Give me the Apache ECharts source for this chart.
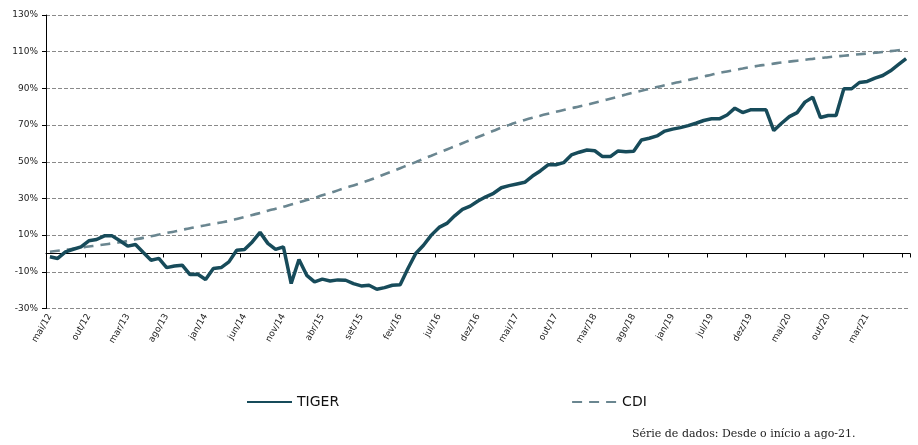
<!DOCTYPE html>
<html>
<head>
<meta charset="utf-8">
<script src="https://cdn.jsdelivr.net/npm/echarts@6/dist/echarts.min.js"></script>
<style>
html,body{margin:0;padding:0;background:#fff;}
#chart{width:918px;height:445px;}
</style>
</head>
<body>
<div id="chart"></div>
<script>
// ---- data ----
var monthNames = ['jan','fev','mar','abr','mai','jun','jul','ago','set','out','nov','dez'];
var missingMonth = 'jun/19';   // the source series skips one month in 2019
var categories = [];
for (var k = 0; k < 112; k++) {          // mai/12 .. ago/21
  var m = (4 + k) % 12;
  var y = 2012 + Math.floor((4 + k) / 12);
  var lab = monthNames[m] + '/' + String(y).slice(2);
  if (lab !== missingMonth) categories.push(lab);
}

var tiger = [
  -1.8, -2.7, 0.9, 2.3, 3.6, 6.9, 7.6, 9.6, 9.6, 6.9,
  4.0, 4.9, 0.5, -3.7, -2.7, -7.7, -6.8, -6.4, -11.5, -11.3,
  -14.2, -8.2, -7.7, -4.6, 1.8, 2.2, 6.3, 11.5, 5.5, 2.2,
  3.6, -16.4, -3.3, -11.9, -15.5, -14.0, -15.0, -14.4, -14.6, -16.4,
  -17.7, -17.3, -19.5, -18.6, -17.3, -17.0, -8.2, 0.0, 4.5, 10.0,
  14.2, 16.4, 20.5, 24.0, 25.8, 28.6, 30.9, 32.8, 35.8, 37.0,
  37.9, 38.8, 42.2, 45.0, 48.3, 48.4, 49.5, 53.7, 55.2, 56.4,
  56.0, 52.8, 52.8, 55.9, 55.5, 55.7, 61.9, 62.8, 64.1, 66.7,
  67.8, 68.6, 69.7, 71.0, 72.5, 73.4, 73.4, 75.5, 79.2, 76.8,
  78.3, 78.3, 78.3, 67.0, 71.0, 74.6, 76.8, 82.5, 85.2, 74.1,
  75.2, 75.2, 89.8, 89.8, 93.2, 93.8, 95.6, 97.0, 99.6, 102.9,
  106.2
];

var cdi = [
  0.9, 1.5, 2.0, 2.6, 3.2, 3.8, 4.3, 4.9, 5.5, 6.1,
  6.8, 7.7, 8.5, 9.4, 10.3, 11.2, 12.0, 12.9, 13.8, 14.6,
  15.4, 16.2, 16.9, 17.7, 18.8, 19.9, 21.0, 22.1, 23.3, 24.4,
  25.5, 26.7, 27.9, 29.1, 30.3, 31.7, 33.0, 34.4, 35.8, 37.1,
  38.5, 39.9, 41.5, 43.2, 44.8, 46.5, 48.2, 49.8, 51.6, 53.3,
  55.0, 56.7, 58.4, 60.1, 61.8, 63.5, 65.2, 66.9, 68.6, 70.1,
  71.5, 72.8, 74.0, 75.1, 76.2, 77.2, 78.2, 79.2, 80.1, 81.1,
  82.2, 83.3, 84.4, 85.5, 86.6, 87.7, 88.7, 89.7, 90.7, 91.7,
  92.7, 93.6, 94.6, 95.5, 96.5, 97.4, 98.4, 99.2, 100.0, 100.8,
  101.6, 102.3, 102.9, 103.5, 104.1, 104.6, 105.1, 105.6, 106.1, 106.6,
  107.0, 107.4, 107.8, 108.2, 108.6, 109.0, 109.4, 109.8, 110.3, 110.8,
  111.3
];

var seriesNames = ['TIGER', 'CDI'];
var footnote = 'Série de dados: Desde o início a ago-21.';

// ---- chart ----
var chart = echarts.init(document.getElementById('chart'), null, {renderer: 'canvas'});
var lastLabelIndex = 105;

chart.setOption({
  animation: false,
  backgroundColor: '#ffffff',
  textStyle: {fontFamily: 'DejaVu Sans'},
  grid: {left: 46, right: 8, top: 15, bottom: 136.5, containLabel: false},
  legend: {
    data: seriesNames,
    left: 246, top: 395, padding: 0,
    itemWidth: 45, itemHeight: 14, itemGap: 232,
    itemStyle: {opacity: 0},
    lineStyle: {opacity: 1},
    textStyle: {fontFamily: 'DejaVu Sans', fontSize: 14, color: '#111'}
  },
  xAxis: [
    {
      type: 'category', data: categories, boundaryGap: true, position: 'bottom',
      axisLine: {show: false, onZero: false},
      axisTick: {show: false},
      axisLabel: {
        interval: function (idx) { return idx % 5 === 0 && idx <= lastLabelIndex; },
        rotate: 60, margin: 6, fontSize: 9, color: '#222', fontFamily: 'DejaVu Sans'
      },
      splitLine: {show: false}
    },
    {
      type: 'category', data: categories, boundaryGap: true, position: 'top',
      axisLine: {show: true, onZero: true, lineStyle: {color: '#000', width: 1}},
      axisTick: {show: true, interval: 4, inside: true, length: 4, lineStyle: {color: '#000'}},
      axisLabel: {show: false},
      splitLine: {show: false}
    }
  ],
  yAxis: {
    type: 'value', min: -30, max: 130, interval: 20,
    axisLine: {show: true, lineStyle: {color: '#000', width: 1}},
    axisTick: {show: true, length: 4, lineStyle: {color: '#000'}},
    axisLabel: {formatter: '{value}%', fontSize: 9, color: '#222', margin: 8, fontFamily: 'DejaVu Sans'},
    splitLine: {show: true, lineStyle: {color: '#8a8a8a', width: 1, type: [4, 2]}}
  },
  series: [
    {
      name: seriesNames[0], type: 'line', data: tiger, xAxisIndex: 0,
      symbol: 'none', smooth: false, z: 3,
      lineStyle: {color: '#174b5a', width: 3.5},
      itemStyle: {color: '#174b5a'}
    },
    {
      name: seriesNames[1], type: 'line', data: cdi, xAxisIndex: 0,
      symbol: 'none', smooth: true, z: 2,
      lineStyle: {color: '#6a8690', width: 2.6, type: [10, 7]},
      itemStyle: {color: '#6a8690'}
    }
  ],
  graphic: [
    {
      type: 'text', left: 632, top: 429,
      style: {text: footnote, font: '11px "DejaVu Serif"', fill: '#222'}
    }
  ]
});
</script>
</body>
</html>
